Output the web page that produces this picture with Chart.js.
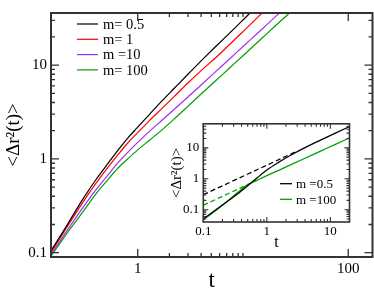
<!DOCTYPE html>
<html>
<head>
<meta charset="utf-8">
<script src="https://cdn.jsdelivr.net/npm/chart.js@4.4.0/dist/chart.umd.min.js"></script>
<style>
  body { margin: 0; background: #fff; }
  #wrap { position: relative; width: 374px; height: 290px; }
  #main { position: absolute; left: 0; top: 0; }
  #inset { position: absolute; left: 160px; top: 112px; }
</style>
</head>
<body>
<div id="wrap">
  <canvas id="main" width="374" height="290"></canvas>
  <canvas id="inset" width="200" height="140"></canvas>
</div>
<script>
// ---- main plot data ----
const tMain = [0.15, 0.2, 0.3, 0.4, 0.5, 0.65, 0.8, 1, 1.3, 1.7, 2.2, 3, 4, 5.5, 7.5, 10, 14, 20, 30];
const msd_m05  = [0.105, 0.175, 0.37, 0.60, 0.84, 1.24, 1.66, 2.18, 3.01, 4.16, 5.6, 8.0, 11.1, 15.8, 22.1, 30.3, 43.9, 62, 95];
const msd_m1   = [0.1, 0.168, 0.342, 0.548, 0.766, 1.11, 1.47, 1.91, 2.58, 3.46, 4.59, 6.46, 8.75, 12.0, 16.7, 22.8, 32.9, 48.5, 75];
const msd_m10  = [0.095, 0.155, 0.30, 0.468, 0.635, 0.912, 1.17, 1.5, 1.98, 2.59, 3.35, 4.57, 6.15, 8.53, 11.7, 15.8, 22.3, 32.3, 49];
const msd_m100 = [0.092, 0.146, 0.271, 0.422, 0.57, 0.80, 0.997, 1.25, 1.59, 2.04, 2.64, 3.64, 4.92, 6.82, 9.4, 12.6, 17.9, 25.8, 39.2];
const labelsMain = ['m= 0.5', 'm= 1', 'm =10', 'm= 100'];

const mainXMajor = [1, 100];
const mainXMinor = [2, 3, 4, 5, 6, 7, 8, 9, 10];
const mainYMajor = [0.1, 1, 10];
const mainYMinor = [0.2, 0.3, 0.4, 0.5, 0.6, 0.7, 0.8, 0.9, 2, 3, 4, 5, 6, 7, 8, 9, 20, 30];

// ---- inset data ----
const tInset = [0.1, 0.15, 0.25, 0.35, 0.5, 0.7, 1, 1.5, 2.7, 4, 7, 12, 20];
const ins_m05  = [0.05, 0.092, 0.198, 0.327, 0.59, 1.06, 1.92, 3.32, 6.7, 10.2, 17.8, 30, 48.8];
const ins_m100 = [0.047, 0.0877, 0.203, 0.365, 0.646, 0.895, 1.26, 1.84, 3.19, 4.62, 7.82, 13, 21];
const tFit05 = [0.1, 3];
const fit_m05 = [0.306, 7.84];
const tFit100 = [0.1, 0.7];
const fit_m100 = [0.14, 0.89];
const labelsInset = ['m =0.5', 'm =100'];

const insXMajor = [0.1, 1, 10];
const insXMinor = [0.2, 0.3, 0.4, 0.5, 0.6, 0.7, 0.8, 0.9, 2, 3, 4, 5, 6, 7, 8, 9];
const insYMajor = [0.1, 1, 10];
const insYMinor = [0.05, 0.06, 0.07, 0.08, 0.09, 0.2, 0.3, 0.4, 0.5, 0.6, 0.7, 0.8, 0.9, 2, 3, 4, 5, 6, 7, 8, 9, 20, 30, 40, 50];

const SERIF = '"Liberation Serif", "Times New Roman", serif';
const BLACK = '#000000', RED = '#ff0000', VIOLET = '#a030f0', GREEN = '#00a000';

function pts(xs, ys) { return xs.map((x, i) => ({x: x, y: ys[i]})); }

// frame + inward ticks on all four sides
const frameTicks = {
  id: 'frameTicks',
  afterDraw(chart, args, o) {
    const {ctx, chartArea: a, scales} = chart;
    const sx = scales.x, sy = scales.y;
    ctx.save();
    ctx.strokeStyle = '#333';
    ctx.lineWidth = o.tickWidth;
    ctx.beginPath();
    const xt = (list, len) => list.forEach(v => {
      const p = sx.getPixelForValue(v);
      if (p < a.left || p > a.right) return;
      ctx.moveTo(p, a.bottom); ctx.lineTo(p, a.bottom - len);
      ctx.moveTo(p, a.top); ctx.lineTo(p, a.top + len);
    });
    const yt = (list, len) => list.forEach(v => {
      const p = sy.getPixelForValue(v);
      if (p < a.top || p > a.bottom) return;
      ctx.moveTo(a.left, p); ctx.lineTo(a.left + len, p);
      ctx.moveTo(a.right, p); ctx.lineTo(a.right - len, p);
    });
    xt(o.xMajor, o.major); xt(o.xMinor, o.minor);
    yt(o.yMajor, o.major); yt(o.yMinor, o.minor);
    ctx.stroke();
    ctx.lineWidth = o.frameWidth;
    ctx.strokeRect(a.left, a.top, a.right - a.left, a.bottom - a.top);
    ctx.restore();
  }
};

const lineLegend = {
  id: 'lineLegend',
  afterDraw(chart, args, o) {
    const ctx = chart.ctx;
    ctx.save();
    ctx.font = o.font;
    ctx.textBaseline = 'middle';
    let i = 0;
    chart.data.datasets.forEach(ds => {
      if (!ds.label) return;
      const yy = o.y + i * o.step;
      ctx.strokeStyle = ds.borderColor;
      ctx.lineWidth = ds.borderWidth;
      ctx.beginPath();
      ctx.moveTo(o.x, yy); ctx.lineTo(o.x + o.len, yy);
      ctx.stroke();
      ctx.fillStyle = '#000';
      ctx.fillText(ds.label, o.x + o.len + o.gap, yy + 1);
      i++;
    });
    ctx.restore();
  }
};

function logAxis(min, max, major, fontSize, pad, fit, title) {
  return {
    type: 'logarithmic',
    min: min, max: max,
    grid: {display: false, drawTicks: false},
    border: {display: false},
    afterBuildTicks: s => { s.ticks = major.map(v => ({value: v})); },
    afterFit: fit,
    ticks: {
      color: '#000', padding: pad, maxRotation: 0, autoSkip: false,
      font: {family: SERIF, size: fontSize},
      callback: v => String(v)
    },
    title: title
  };
}

function draw() {
  Chart.defaults.font.family = SERIF;

  new Chart(document.getElementById('main'), {
    type: 'line',
    data: {
      datasets: [
        {label: labelsMain[0], data: pts(tMain, msd_m05),  borderColor: BLACK,  borderWidth: 1.2},
        {label: labelsMain[1], data: pts(tMain, msd_m1),   borderColor: RED,    borderWidth: 1.2},
        {label: labelsMain[2], data: pts(tMain, msd_m10),  borderColor: VIOLET, borderWidth: 1.2},
        {label: labelsMain[3], data: pts(tMain, msd_m100), borderColor: GREEN,  borderWidth: 1.2}
      ]
    },
    options: {
      responsive: false,
      animation: false,
      layout: {padding: {left: 0, right: 1.5, top: 1.5, bottom: 0}},
      elements: {point: {radius: 0}, line: {cubicInterpolationMode: 'monotone', fill: false}},
      scales: {
        x: logAxis(0.15, 170, mainXMajor, 15, 3, s => { s.height = 33; },
          {display: true, text: 't', color: '#000', font: {family: SERIF, size: 23, lineHeight: 0.8}, padding: 0}),
        y: logAxis(0.09, 36, mainYMajor, 15, 4, s => { s.width = 51; },
          {display: true, text: '<Δr²(t)>', color: '#000', font: {family: SERIF, size: 19, lineHeight: 1.2}, padding: {top: 3, bottom: 3}})
      },
      plugins: {
        legend: {display: false},
        tooltip: {enabled: false},
        frameTicks: {xMajor: mainXMajor, xMinor: mainXMinor, yMajor: mainYMajor, yMinor: mainYMinor,
                     major: 8, minor: 4, tickWidth: 1.3, frameWidth: 2},
        lineLegend: {x: 77, y: 24, step: 15.3, len: 21, gap: 5, font: '14.5px ' + SERIF}
      }
    },
    plugins: [frameTicks, lineLegend]
  });

  new Chart(document.getElementById('inset'), {
    type: 'line',
    data: {
      datasets: [
        {label: labelsInset[0], data: pts(tInset, ins_m05),  borderColor: BLACK, borderWidth: 1.3},
        {label: labelsInset[1], data: pts(tInset, ins_m100), borderColor: GREEN, borderWidth: 1.3},
        {label: '', data: pts(tFit05, fit_m05),   borderColor: BLACK, borderWidth: 1.3, borderDash: [5, 3]},
        {label: '', data: pts(tFit100, fit_m100), borderColor: GREEN, borderWidth: 1.3, borderDash: [5, 3]}
      ]
    },
    options: {
      responsive: false,
      animation: false,
      layout: {padding: {left: 0, right: 10.5, top: 8.3, bottom: 0}},
      elements: {point: {radius: 0}, line: {cubicInterpolationMode: 'monotone', fill: false}},
      scales: {
        x: logAxis(0.1, 20, insXMajor, 13, 2, s => { s.height = 30; },
          {display: true, text: 't', color: '#000', font: {family: SERIF, size: 16, lineHeight: 1}, padding: 1}),
        y: logAxis(0.04, 60, insYMajor, 13, 4, s => { s.width = 43.3; },
          {display: true, text: '<Δr²(t)>', color: '#000', font: {family: SERIF, size: 15, lineHeight: 1.2}, padding: {top: 8, bottom: 8}})
      },
      plugins: {
        legend: {display: false},
        tooltip: {enabled: false},
        frameTicks: {xMajor: insXMajor, xMinor: insXMinor, yMajor: insYMajor, yMinor: insYMinor,
                     major: 5, minor: 3, tickWidth: 1.1, frameWidth: 1.6},
        lineLegend: {x: 120, y: 71.7, step: 15.6, len: 12, gap: 4, font: '13px ' + SERIF}
      }
    },
    plugins: [frameTicks, lineLegend]
  });
}

draw();
</script>
</body>
</html>
